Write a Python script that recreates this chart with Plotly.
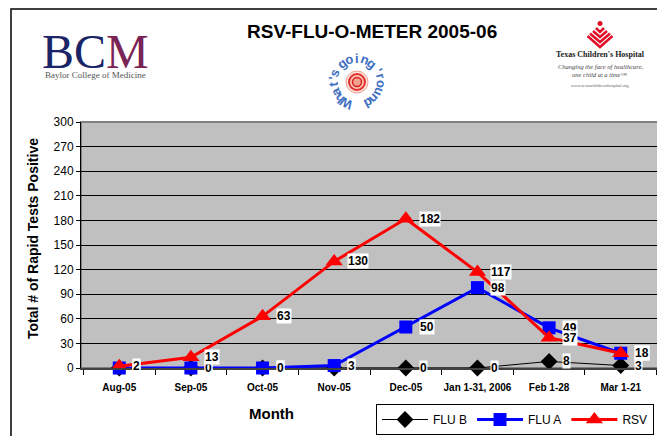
import math
import plotly.graph_objects as go

months = ["Aug-05", "Sep-05", "Oct-05", "Nov-05", "Dec-05", "Jan 1-31, 2006", "Feb 1-28", "Mar 1-21"]
flu_b = [0, 0, 0, 0, 0, 0, 8, 3]
flu_a = [0, 0, 0, 3, 50, 98, 49, 18]
rsv = [2, 13, 63, 130, 182, 117, 37, 18]
y_ticks = list(range(0, 301, 30))

# the page body has an 8px margin; layout is planned in window pixels and shifted by it
OFF = 8
W, H = 665, 436
PL, PR, PT, PB = 81, 659, 122, 368          # plot area in window pixels
L, T = PL - OFF, PT - OFF
R, B = W - (PR - OFF), H - (PB - OFF)
PW, PH = PR - PL, PB - PT
NARROW = "Liberation Sans Narrow, Arial Narrow, Arial"


def px(x):
    return (x - PL) / PW


def py(y):
    return (PB - y) / PH


def note(x, y, text, size, family="Arial", color="black", angle=0):
    return dict(x=px(x), y=py(y), xref="paper", yref="paper", text=text, showarrow=False,
                xanchor="center", yanchor="middle", textangle=angle,
                font=dict(family=family, size=size, color=color))


fig = go.Figure()
fig.add_trace(go.Scatter(x=months, y=flu_b, name="FLU B", mode="lines+markers",
                         line=dict(color="black", width=1),
                         marker=dict(symbol="diamond", size=13, color="black"), cliponaxis=False))
fig.add_trace(go.Scatter(x=months, y=flu_a, name="FLU A", mode="lines+markers",
                         line=dict(color="#0000FF", width=3),
                         marker=dict(symbol="square", size=13, color="#0000FF"), cliponaxis=False))
fig.add_trace(go.Scatter(x=months, y=rsv, name="RSV", mode="lines+markers",
                         line=dict(color="#FF0000", width=3),
                         marker=dict(symbol="triangle-up", size=15, color="#FF0000"), cliponaxis=False))

ann = []
for series in (flu_b, flu_a, rsv):
    for m, v in zip(months, series):
        ann.append(dict(x=m, y=v, xref="x", yref="y", text=f"<b>{v}</b>", showarrow=False,
                        xanchor="left", yanchor="middle", xshift=13, bgcolor="white", borderpad=0,
                        font=dict(family=NARROW, size=12, color="black")))

# titles
ann.append(note(372, 31, "<b>RSV-FLU-O-METER 2005-06</b>", 19))
ann.append(note(271, 413, "<b>Month</b>", 15))
ann.append(note(33, 239, "<b>Total # of Rapid Tests Positive</b>", 14, angle=-90))

# BCM logo (text)
ann.append(note(95, 52, "<span style='color:#1A2466'>BC</span><span style='color:#7A2456'>M</span>",
                48, family="Liberation Serif"))
ann.append(note(95, 75, "Baylor College of Medicine", 9, family="Liberation Serif", color="#555555"))

# Texas Children's logo (text)
ann.append(note(600, 54, "<b>Texas Children's Hospital</b>", 8, family="Liberation Serif", color="#222222"))
ann.append(note(601, 66, "<i>Changing the face of healthcare,</i>", 6.5, family="Liberation Serif", color="#444444"))
ann.append(note(599, 75, "<i>one child at a time™</i>", 6.5, family="Liberation Serif", color="#444444"))
ann.append(note(600, 85, "www.texaschildrenshospital.org", 4.5, family="Liberation Serif", color="#666666"))

# What's going 'round logo (circular text)
txt = "What's going 'round"
cx, cy, r = 357, 82, 24
weights = [0.5 if ch == " " else (0.45 if ch == "'" else 1.0) for ch in txt]
total = sum(weights) - (weights[0] + weights[-1]) / 2
start, span = 243, 305
acc = 0.0
for i, ch in enumerate(txt):
    if i > 0:
        acc += (weights[i - 1] + weights[i]) / 2
    th = start - span * acc / total
    x = cx + r * math.cos(math.radians(th))
    y = cy - r * math.sin(math.radians(th))
    if ch != " ":
        ann.append(note(x, y, f"<b>{ch}</b>", 13, color="#3E6EC0", angle=90 - th))

shapes = [
    dict(type="rect", xref="paper", yref="paper", x0=px(11), x1=px(700), y0=py(9), y1=py(470),
         line=dict(color="black", width=1.5), fillcolor="rgba(0,0,0,0)", layer="below"),
    dict(type="circle", xref="paper", yref="paper", x0=px(cx - 11), x1=px(cx + 11), y0=py(cy + 11), y1=py(cy - 11),
         line=dict(color="#F0A090", width=1), fillcolor="#FBE3DC"),
    dict(type="circle", xref="paper", yref="paper", x0=px(cx - 8), x1=px(cx + 8), y0=py(cy + 8), y1=py(cy - 8),
         line=dict(color="#E03030", width=2), fillcolor="#F7C0B0"),
    dict(type="circle", xref="paper", yref="paper", x0=px(cx - 4.5), x1=px(cx + 4.5), y0=py(cy + 4.5), y1=py(cy - 4.5),
         line=dict(color="#D82020", width=1.5), fillcolor="#F4A090"),
]
# heart logo chevrons
for tip, hw, top in [(32, 4, 28), (37, 7, 31), (42, 10, 33.5), (47, 12.5, 36)]:
    shapes.append(dict(type="path", xref="paper", yref="paper",
                       path=f"M {px(600 - hw)} {py(top)} L {px(600)} {py(tip)} L {px(600 + hw)} {py(top)}",
                       line=dict(color="#E0102A", width=2.5)))
shapes.append(dict(type="circle", xref="paper", yref="paper", x0=px(597.5), x1=px(602.5), y0=py(26), y1=py(21),
                   line=dict(color="#E0102A", width=0), fillcolor="#E0102A"))

fig.update_layout(
    width=W, height=H,
    margin=dict(l=L, r=R, t=T, b=B, autoexpand=False),
    paper_bgcolor="white", plot_bgcolor="#C0C0C0",
    font=dict(family="Arial", size=12, color="black"),
    showlegend=True,
    legend=dict(orientation="h", x=px(376), y=py(404), xanchor="left", yanchor="top",
                bordercolor="black", borderwidth=1, bgcolor="white",
                font=dict(family="Arial", size=12, color="black"), itemwidth=46,
                traceorder="normal"),
    annotations=ann,
    shapes=shapes,
    xaxis=dict(type="category", categoryorder="array", categoryarray=months,
               showgrid=False, ticks="outside", tickson="boundaries", ticklen=5, tickcolor="black",
               showline=True, linecolor="#404040", linewidth=2, mirror=False, tickangle=0,
               automargin=False, ticklabelstandoff=9,
               tickfont=dict(family="Arial", size=10, color="black"),
               ticktext=[f"<b>{m}</b>" for m in months], tickvals=months),
    yaxis=dict(range=[0, 300], tickvals=y_ticks, showgrid=True, gridcolor="black", gridwidth=1,
               ticks="outside", ticklen=4, tickcolor="black", showline=True, linecolor="black",
               linewidth=1, zeroline=False, automargin=False,
               tickfont=dict(family=NARROW, size=12, color="black")),
)
fig.add_shape(type="rect", xref="paper", yref="paper", x0=0, x1=1, y0=0, y1=1,
              line=dict(color="#808080", width=2), fillcolor="rgba(0,0,0,0)", layer="below")

fig.write_html("out.html")
